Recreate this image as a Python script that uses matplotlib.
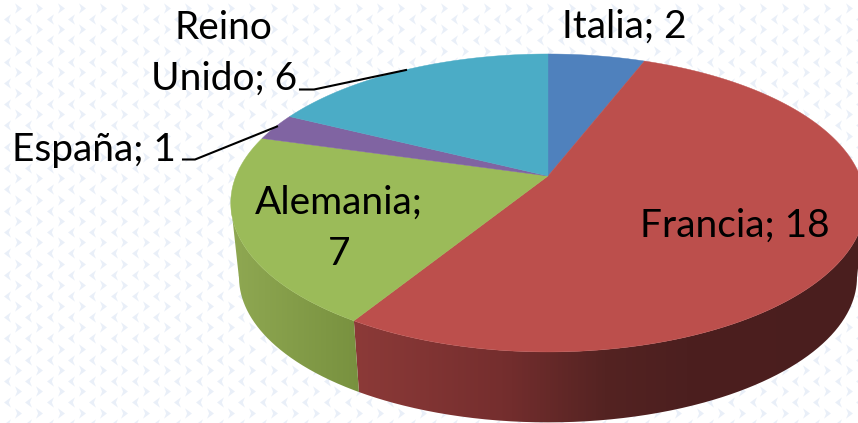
import numpy as np
import matplotlib
matplotlib.use("Agg")
import matplotlib.pyplot as plt
from matplotlib.path import Path
from matplotlib.patches import PathPatch
from matplotlib.colors import LinearSegmentedColormap

plt.rcParams['font.family'] = ['Lato', 'DejaVu Sans']

categories = ["Italia", "Francia", "Alemania", "España", "Reino Unido"]
values = [2, 18, 7, 1, 6]
top_colors = ["#4F81BD", "#BC4F4C", "#9BBB59", "#8064A2", "#4BACC6"]
# wall shading: colour stops (relative position across the wall, colour)
wall_colors = {
    "Francia": [(0.0, "#8C3A38"), (0.29, "#752E2E"), (0.49, "#542322"),
                (0.65, "#4C1F1F"), (1.0, "#4A1E1E")],
    "Alemania": [(0.0, "#8FA852"), (1.0, "#78913F")],
}

W, H = 858, 423
CX, CY, A, B, K = 548.0, 176.0, 312.0, 144.1, -0.181
DEPTH, SHRINK = 75.0, 0.974


def project(theta, lower=False):
    u, v = np.sin(theta), -np.cos(theta)
    w = 1 + K * v
    x, y = A * u / w, B * v / w
    if lower:
        return CX + SHRINK * x, CY + DEPTH + SHRINK * y
    return CX + x, CY + y


fig = plt.figure(figsize=(W / 100, H / 100), dpi=100)
ax = fig.add_axes([0, 0, 1, 1])
ax.set_xlim(0, W)
ax.set_ylim(H, 0)
ax.axis("off")

# background chevrons
chev_r = [(-3, -4.5), (3, 0), (-3, 4.5), (-1.2, 0)]
chev_l = [(3, -4.5), (-3, 0), (3, 4.5), (1.2, 0)]
rx, ry = np.meshgrid(np.arange(18, W + 10, 21.3), np.arange(8, H + 10, 21.3))
lx, ly = np.meshgrid(np.arange(7, W + 10, 21.3), np.arange(19, H + 10, 21.3))
ax.scatter(rx.ravel(), ry.ravel(), marker=chev_r, s=55, c="#E9EFF8", linewidths=0, zorder=1)
ax.scatter(lx.ravel(), ly.ravel(), marker=chev_l, s=55, c="#E9EFF8", linewidths=0, zorder=1)

# wedge angles from the values
total = sum(values)
edges = np.r_[0, np.cumsum(values)] / total * 2 * np.pi

# silhouette angles of the top face: only the part between them faces the viewer
circle = np.linspace(0, 2 * np.pi, 2000)
cx_all, _ = project(circle)
th_right, th_left = circle[np.argmax(cx_all)], circle[np.argmin(cx_all)]

# walls: horizontal gradient clipped to the wall outline
for name, c0, c1 in zip(categories, edges[:-1], edges[1:]):
    if name not in wall_colors:
        continue
    th = np.linspace(max(c0, th_right), min(c1, th_left), 400)
    xt, yt = project(th)
    xb, yb = project(th, lower=True)
    outline = np.column_stack([np.r_[xt, xb[::-1]], np.r_[yt, yb[::-1]]])
    x0, x1 = outline[:, 0].min(), outline[:, 0].max()
    cmap = LinearSegmentedColormap.from_list(name, wall_colors[name])
    img = ax.imshow(np.linspace(0, 1, 512)[None, :], cmap=cmap, vmin=0, vmax=1,
                    extent=[x0, x1, yb.max() + 2, yt.min() - 2], aspect="auto",
                    interpolation="bilinear", zorder=2)
    img.set_clip_path(PathPatch(Path(np.vstack([outline, outline[:1]])),
                                transform=ax.transData))
ax.set_xlim(0, W)
ax.set_ylim(H, 0)

# top faces
for color, c0, c1 in zip(top_colors, edges[:-1], edges[1:]):
    th = np.linspace(c0, c1, 200)
    x, y = project(th)
    ax.fill(np.r_[CX, x], np.r_[CY, y], color=color, lw=0.3, zorder=3)

# leader lines
ax.plot([300, 314, 406], [89.5, 89.5, 70], color="black", lw=1.5, zorder=4,
        solid_joinstyle="miter")
ax.plot([183, 195, 277], [159.5, 159.5, 126.5], color="black", lw=1.5, zorder=4,
        solid_joinstyle="miter")

# labels
fs = 28
labels = [
    (f"{categories[0]}; {values[0]}", 624, 27),
    (f"{categories[1]}; {values[1]}", 735, 226),
    ("Alemania;", 339, 203),
    (f"{values[2]}", 339, 254),
    ("España; 1", 94, 150),
    ("Reino", 223, 28),
    (f"Unido; {values[4]}", 224, 79),
]
for s, x, y in labels:
    ax.text(x, y, s, fontsize=fs, color="black", ha="center", va="center", zorder=5)

fig.savefig("out.png", dpi=100, facecolor="white")
